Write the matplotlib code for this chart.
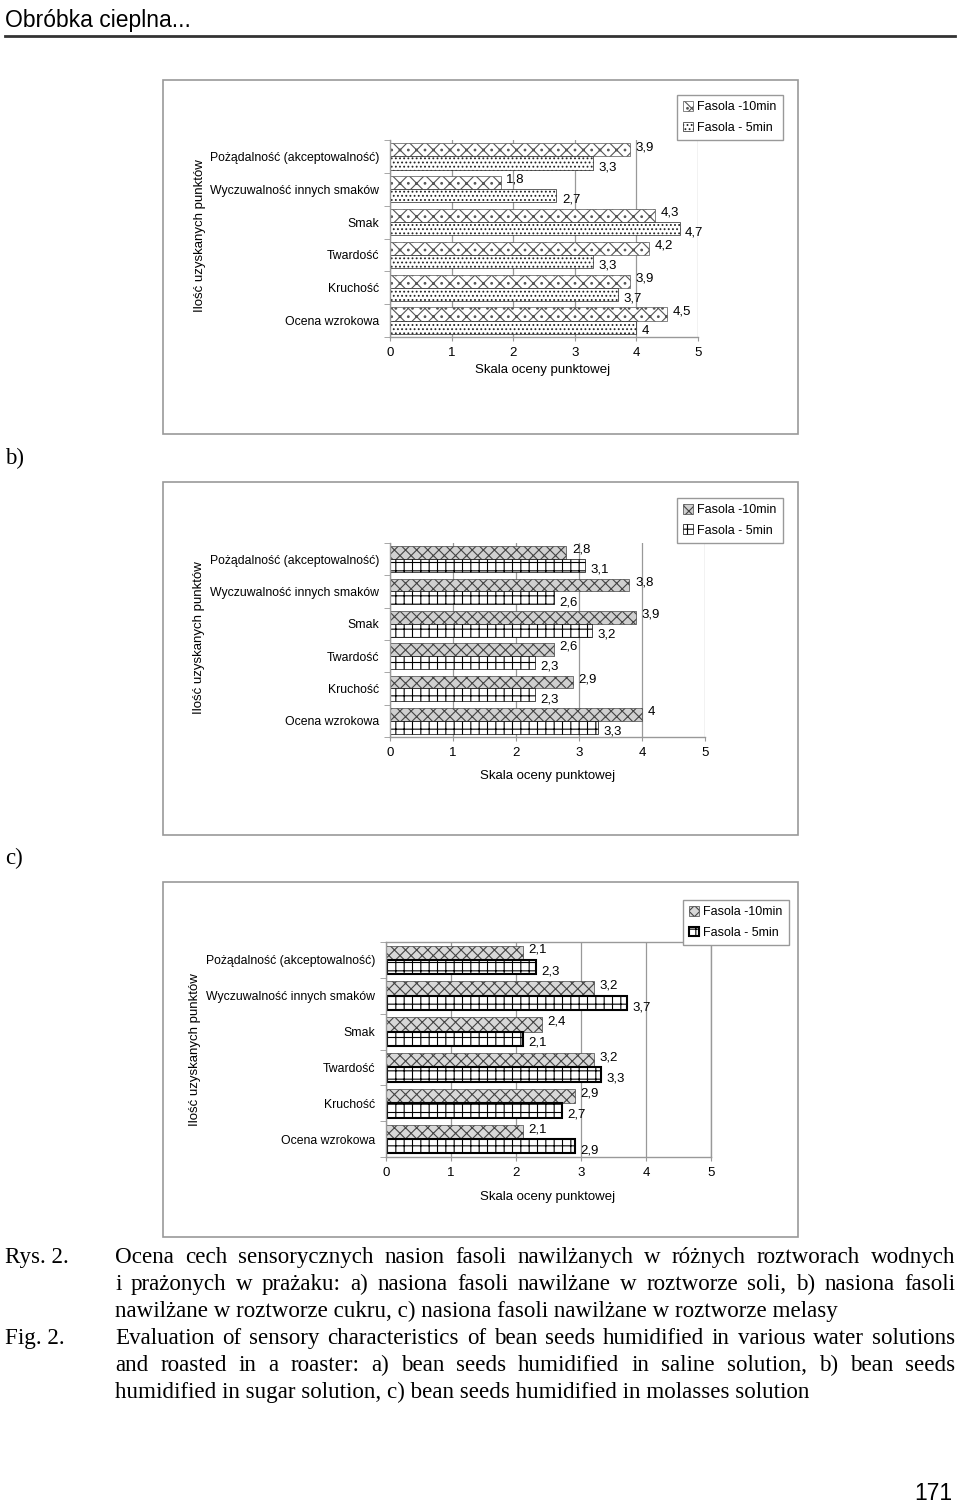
import matplotlib
matplotlib.use('Agg')
import matplotlib.pyplot as plt
import numpy as np
from matplotlib.patches import Rectangle, Patch
from matplotlib.lines import Line2D

plt.rcParams['font.family'] = ['Liberation Sans', 'DejaVu Sans']
plt.rcParams['hatch.linewidth'] = 0.8

W, H = 960, 1504
fig = plt.figure(figsize=(9.6, 15.04), dpi=100)


def fx(x):
    return x / W


def fy(y):
    return 1 - y / H


# ---------------- data ----------------
categories = ["Pożądalność (akceptowalność)", "Wyczuwalność innych smaków", "Smak",
              "Twardość", "Kruchość", "Ocena wzrokowa"]
series_labels = ["Fasola -10min", "Fasola - 5min"]
xticks = [0, 1, 2, 3, 4, 5]
xlabel = "Skala oceny punktowej"
ylabel = "Ilość uzyskanych punktów"

a_10min = [3.9, 1.8, 4.3, 4.2, 3.9, 4.5]
a_5min = [3.3, 2.7, 4.7, 3.3, 3.7, 4.0]
b_10min = [2.8, 3.8, 3.9, 2.6, 2.9, 4.0]
b_5min = [3.1, 2.6, 3.2, 2.3, 2.3, 3.3]
c_10min = [2.1, 3.2, 2.4, 3.2, 2.9, 2.1]
c_5min = [2.3, 3.7, 2.1, 3.3, 2.7, 2.9]

# ---------------- page elements ----------------
fig.text(fx(5), fy(20), "Obróbka cieplna...", fontsize=16.5, ha='left', va='center',
         family=['Liberation Sans'])
fig.add_artist(Line2D([fx(5), fx(955)], [fy(36), fy(36)], color='#333333', lw=2))

for (x0, y0, x1, y1) in [(163, 80, 798, 434), (163, 482, 798, 835), (163, 882, 798, 1237)]:
    fig.add_artist(Rectangle((fx(x0), fy(y1)), fx(x1 - x0), (y1 - y0) / H,
                             fill=False, edgecolor='#999999', lw=1.2))

fig.text(fx(5), fy(458), "b)", fontsize=16.5, family=['Liberation Serif'], va='center')
fig.text(fx(5), fy(858), "c)", fontsize=16.5, family=['Liberation Serif'], va='center')


def fmt(v):
    return ('%g' % v).replace('.', ',')


def chart(rect, v10, v5, st10, st5, leg_xy, xlab_xy, ylab_xy, full_box):
    x0, y0, x1, y1 = rect
    ax = fig.add_axes([fx(x0), fy(y1), fx(x1 - x0), (y1 - y0) / H])
    y = np.arange(len(categories))
    ax.barh(y - 0.2, v10, height=0.4, **st10)
    ax.barh(y + 0.2, v5, height=0.4, **st5)
    for yy, v in zip(y, v10):
        ax.annotate(fmt(v), (v, yy - 0.2), xytext=(4, 2), textcoords='offset points',
                    fontsize=9.5, va='center', ha='left')
    for yy, v in zip(y, v5):
        ax.annotate(fmt(v), (v, yy + 0.2), xytext=(4, -3), textcoords='offset points',
                    fontsize=9.5, va='center', ha='left')
    ax.set_xlim(0, 5)
    ax.set_ylim(len(categories) - 0.5, -0.5)
    ax.set_xticks(xticks)
    ax.set_xticklabels([str(t) for t in xticks], fontsize=9.5)
    ax.set_yticks(y)
    ax.set_yticklabels(categories, fontsize=8.8)
    ax.set_yticks(np.arange(-0.5, len(categories)), minor=True)
    ax.tick_params(axis='y', which='major', length=0, pad=8)
    ax.tick_params(axis='y', which='minor', length=4, color='#999999')
    ax.tick_params(axis='x', length=3, color='#999999', pad=4)
    ax.grid(axis='x', color='#999999', lw=0.9)
    ax.set_axisbelow(True)
    for s in ['top', 'right']:
        ax.spines[s].set_visible(full_box)
    for s in ax.spines.values():
        s.set_color('#999999')
        s.set_linewidth(1.0)
    fig.text(fx(xlab_xy[0]), fy(xlab_xy[1]), xlabel, fontsize=9.5, ha='center', va='center')
    fig.text(fx(ylab_xy[0]), fy(ylab_xy[1]), ylabel, fontsize=9.5, ha='center', va='center',
             rotation=90)
    handles = [Patch(**st10), Patch(**st5)]
    fig.legend(handles, series_labels, loc='upper left', bbox_to_anchor=(fx(leg_xy[0]), fy(leg_xy[1])),
               frameon=True, fancybox=False, edgecolor='#999999', framealpha=1, fontsize=9,
               handlelength=0.8, handleheight=0.8, borderpad=0.5, labelspacing=0.65,
               handletextpad=0.3, borderaxespad=0)
    return ax


style_a10 = dict(facecolor='white', edgecolor='#555555', hatch='xx..', lw=0.5)
style_a5 = dict(facecolor='white', edgecolor='#222222', hatch='....', lw=0.5)
style_b10 = dict(facecolor='#d0d0d0', edgecolor='#444444', hatch='xxx', lw=0.5)
style_b5 = dict(facecolor='white', edgecolor='black', hatch='++', lw=0.5)
style_c10 = dict(facecolor='#d8d8d8', edgecolor='#444444', hatch='xxx', lw=0.5)
style_c5 = dict(facecolor='white', edgecolor='black', hatch='++', lw=1.5)

chart((390, 140, 698, 337), a_10min, a_5min, style_a10, style_a5,
      (677, 95), (543, 370), (200, 236), False)
chart((390, 543, 705, 737), b_10min, b_5min, style_b10, style_b5,
      (677, 498), (548, 776), (199, 638), False)
chart((386, 942, 711, 1157), c_10min, c_5min, style_c10, style_c5,
      (683, 900), (548, 1197), (195, 1050), True)

# ---------------- caption ----------------
cap_fs = 16.6
serif = ['Liberation Serif']
base_off = 6
fig.text(fx(5), fy(1257 + base_off), "Rys. 2.", fontsize=cap_fs, family=serif, va='baseline')
fig.text(fx(5), fy(1338 + base_off), "Fig. 2.", fontsize=cap_fs, family=serif, va='baseline')

cap_lines = [
    ("Ocena cech sensorycznych nasion fasoli nawilżanych w różnych roztworach wodnych", True),
    ("i prażonych w prażaku: a) nasiona fasoli nawilżane w roztworze soli, b) nasiona fasoli", True),
    ("nawilżane w roztworze cukru, c) nasiona fasoli nawilżane w roztworze melasy", False),
    ("Evaluation of sensory characteristics of bean seeds humidified in various water solutions", True),
    ("and roasted in a roaster: a) bean seeds humidified in saline solution, b) bean seeds", True),
    ("humidified in sugar solution, c) bean seeds humidified in molasses solution", False),
]
renderer = fig.canvas.get_renderer()
left, right = 115, 955
for i, (line, justify) in enumerate(cap_lines):
    yb = 1257 + 27 * i + base_off
    if not justify:
        fig.text(fx(left), fy(yb), line, fontsize=cap_fs, family=serif, va='baseline')
        continue
    words = line.split(' ')
    texts = [fig.text(0, fy(yb), w, fontsize=cap_fs, family=serif, va='baseline') for w in words]
    widths = [t.get_window_extent(renderer).width for t in texts]
    gap = (right - left - sum(widths)) / (len(words) - 1)
    x = left
    for t, w in zip(texts, widths):
        t.set_x(fx(x))
        x += w + gap

fig.text(fx(952), fy(1493), "171", fontsize=16.5, ha='right', va='center')

fig.savefig('out.png', dpi=100)
